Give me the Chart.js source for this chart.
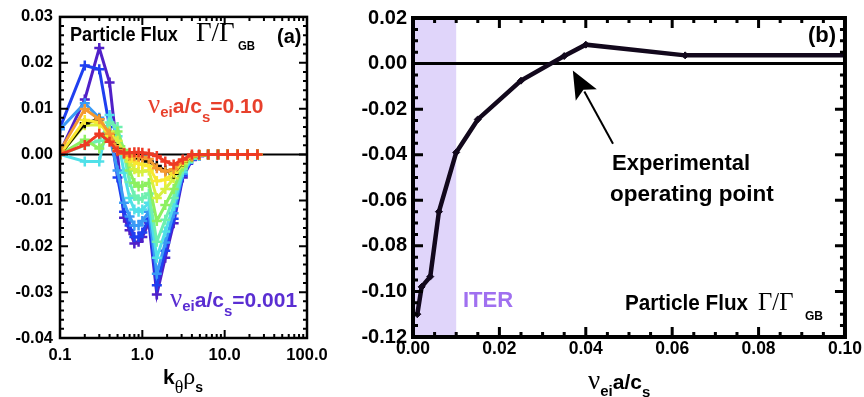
<!DOCTYPE html>
<html>
<head>
<meta charset="utf-8">
<title>Particle flux collisionality scan</title>
<script src="https://cdn.jsdelivr.net/npm/chart.js@4.4.1/dist/chart.umd.min.js"></script>
<style>
    body { margin: 0; background: #fff; }
    #wrap { position: relative; width: 864px; height: 397px; overflow: hidden; }
    canvas { position: absolute; top: 0; }
    .t {
        position: absolute; white-space: nowrap; line-height: 1;
        font-family: "Liberation Sans", Arial, sans-serif; font-weight: bold;
        transform-origin: 0 0;
    }
    .g { font-family: "Liberation Serif", "Times New Roman", serif; font-weight: normal; }
    .sub { position: relative; }
</style>
</head>
<body>
<div id="wrap">
    <canvas id="fluxK" width="345" height="397" style="left:0"></canvas>
    <canvas id="fluxNu" width="519" height="397" style="left:345px"></canvas>

    <!-- panel (a) labels -->
    <div class="t" style="left:70px;top:23.6px;font-size:20.5px;transform:scaleX(0.885)">Particle Flux</div>
    <div class="t g" style="left:196px;top:18.5px;font-size:27px">Γ/Γ</div>
    <div class="t" style="left:238px;top:39.8px;font-size:12px;transform:scaleX(0.95)">GB</div>
    <div class="t" style="left:277px;top:25px;font-size:21px;transform:scaleX(0.95)">(a)</div>
    <div class="t" style="left:148px;top:91px;font-size:21px;color:#e8402c"><span class="g" style="font-size:27px">ν</span><span class="sub" style="font-size:15px;top:4px">ei</span>a/c<span class="sub" style="font-size:15px;top:9px">s</span>=0.10</div>
    <div class="t" style="left:170px;top:285px;font-size:21px;color:#5a2ed2"><span class="g" style="font-size:27px">ν</span><span class="sub" style="font-size:15px;top:4px">ei</span>a/c<span class="sub" style="font-size:15px;top:9px">s</span>=0.001</div>
    <div class="t" style="left:163px;top:364px;font-size:21px">k<span class="sub g" style="font-size:18px;top:9px">θ</span><span class="g" style="font-size:24px">ρ</span><span class="sub" style="font-size:14px;top:8px">s</span></div>

    <!-- panel (b) labels -->
    <div class="t" style="left:808px;top:24.3px;font-size:22px">(b)</div>
    <div class="t" style="left:612px;top:152.3px;font-size:22px">Experimental</div>
    <div class="t" style="left:610px;top:182.9px;font-size:22.5px">operating point</div>
    <div class="t" style="left:463px;top:289.3px;font-size:22px;color:#a070f0">ITER</div>
    <div class="t" style="left:625px;top:291.9px;font-size:22.5px;transform:scaleX(0.92)">Particle Flux</div>
    <div class="t g" style="left:758px;top:289.2px;font-size:26px;transform:scaleX(0.95)">Γ/Γ</div>
    <div class="t" style="left:805px;top:309.8px;font-size:12px">GB</div>
    <div class="t" style="left:588px;top:367px;font-size:21px"><span class="g" style="font-size:27px">ν</span><span class="sub" style="font-size:15px;top:7px">ei</span>a/c<span class="sub" style="font-size:15px;top:8px">s</span></div>
</div>

<script>
// ---- panel (a): flux spectrum vs k_theta rho_s, one line per collisionality ----
const kGrid = [0.1, 0.2, 0.3, 0.4, 0.5, 0.6, 0.7, 0.8, 0.9, 1.0, 1.2, 1.5, 1.9, 2.4, 3.1, 4.0, 4.9, 6.3, 8.3, 10.9, 14.4, 19, 25];

const fluxNu001 = [0.0005, 0.0120, 0.0232, 0.0157, 0.0000, -0.0138, -0.0165, -0.0194, -0.0190, -0.0180, -0.0148, -0.0305, -0.0225, -0.0150, -0.0050, -0.0012, -0.0003, 0, 0, 0, 0, 0, 0];
const fluxNu002 = [0.0058, 0.0194, 0.0186, 0.0060, -0.0050, -0.0125, -0.0155, -0.0180, -0.0180, -0.0170, -0.0140, -0.0285, -0.0210, -0.0140, -0.0046, -0.0011, -0.0003, 0, 0, 0, 0, 0, 0];
const fluxNu004 = [0.0055, 0.0112, 0.0080, 0.0040, -0.0035, -0.0105, -0.0135, -0.0155, -0.0155, -0.0145, -0.0125, -0.0260, -0.0192, -0.0128, -0.0042, -0.0010, -0.0002, 0, 0, 0, 0, 0, 0];
const fluxNu006 = [0.0000, -0.0015, -0.0015, 0.0086, 0.0040, -0.0040, -0.0095, -0.0120, -0.0125, -0.0120, -0.0105, -0.0225, -0.0168, -0.0112, -0.0038, -0.0009, -0.0002, 0, 0, 0, 0, 0, 0];
const fluxNu010 = [0.0000, 0.0020, 0.0030, 0.0070, 0.0060, 0.0000, -0.0060, -0.0090, -0.0098, -0.0095, -0.0085, -0.0190, -0.0142, -0.0095, -0.0032, -0.0008, -0.0002, 0, 0, 0, 0, 0, 0];
const fluxNu015 = [0.0000, 0.0032, 0.0013, 0.0040, 0.0050, 0.0010, -0.0035, -0.0062, -0.0070, -0.0068, -0.0062, -0.0145, -0.0110, -0.0075, -0.0026, -0.0006, -0.0001, 0, 0, 0, 0, 0, 0];
const fluxNu025 = [0.0000, 0.0064, 0.0065, 0.0050, 0.0030, 0.0005, -0.0015, -0.0032, -0.0038, -0.0037, -0.0035, -0.0095, -0.0075, -0.0052, -0.0019, -0.0005, -0.0001, 0, 0, 0, 0, 0, 0];
const fluxNu035 = [0.0000, 0.0068, 0.0077, 0.0042, 0.0012, 0.0002, -0.0003, -0.0006, -0.0008, -0.0010, -0.0015, -0.0025, -0.0035, -0.0042, -0.0016, -0.0004, -0.0001, 0, 0, 0, 0, 0, 0];
const fluxNu040 = [0.0000, 0.0075, 0.0070, 0.0040, 0.0010, 0.0002, -0.0008, -0.0015, -0.0020, -0.0022, -0.0025, -0.0058, -0.0055, -0.0040, -0.0015, -0.0004, -0.0001, 0, 0, 0, 0, 0, 0];
const fluxNu063 = [0.0008, 0.0099, 0.0077, 0.0045, 0.0010, 0.0002, -0.0002, -0.0004, -0.0005, -0.0006, -0.0010, -0.0030, -0.0037, -0.0032, -0.0012, -0.0003, -0.0001, 0, 0, 0, 0, 0, 0];
const fluxNu100 = [0.0000, 0.0021, 0.0045, 0.0028, 0.0007, 0.0003, 0.0004, 0.0005, 0.0005, 0.0004, 0.0002, -0.0003, -0.0015, -0.0022, -0.0011, 0.0000, 0.0000, 0, 0, 0, 0, 0, 0];

const spectra = [fluxNu001, fluxNu002, fluxNu004, fluxNu006, fluxNu010, fluxNu015, fluxNu025, fluxNu035, fluxNu040, fluxNu063, fluxNu100];
const spectraColors = ['#5020c8', '#1f3ff0', '#3a9af5', '#50e0e8', '#6ef0b0', '#8cf060', '#d8f040', '#000000', '#f8e830', '#f59a30', '#ee3a24'];

const kTicks = [0.1, 1, 10, 100];
const kMinorTicks = [0.2, 0.3, 0.4, 0.5, 0.6, 0.7, 0.8, 0.9, 2, 3, 4, 5, 6, 7, 8, 9, 20, 30, 40, 50, 60, 70, 80, 90];
const fluxTicksA = [-0.04, -0.03, -0.02, -0.01, 0, 0.01, 0.02, 0.03];

// ---- panel (b): total flux vs collisionality ----
const nuScan = [0.001, 0.002, 0.004, 0.006, 0.01, 0.015, 0.025, 0.035, 0.04, 0.063, 0.1];
const fluxTotal = [-0.110, -0.098, -0.0935, -0.065, -0.039, -0.0245, -0.0075, 0.0033, 0.0083, 0.0036, 0.0036];
const nuTicks = [0, 0.02, 0.04, 0.06, 0.08, 0.10];
const fluxTicksB = [-0.12, -0.10, -0.08, -0.06, -0.04, -0.02, 0, 0.02];
const iterRange = [0, 0.01];
const arrowTail = [0.0463, -0.0352];
const arrowTip = [0.037, -0.003];

const FONT = '"Liberation Sans", Arial, sans-serif';

function steps(lo, hi, d) {
    const out = [];
    for (let v = lo; v <= hi + d / 2; v += d) out.push(+v.toFixed(6));
    return out;
}

// box frame with inward ticks on all four sides
const frameTicks = {
    id: 'frameTicks',
    afterDatasetsDraw(chart, args, o) {
        const { ctx, chartArea: a } = chart;
        const xs = chart.scales.x, ys = chart.scales.y;
        ctx.save();
        ctx.strokeStyle = '#000';
        ctx.lineWidth = o.tickWidth;
        ctx.beginPath();
        const xMarks = (vals, len) => vals.forEach(v => {
            const p = xs.getPixelForValue(v);
            ctx.moveTo(p, a.bottom); ctx.lineTo(p, a.bottom - len);
            ctx.moveTo(p, a.top); ctx.lineTo(p, a.top + len);
        });
        const yMarks = (vals, len) => vals.forEach(v => {
            const p = ys.getPixelForValue(v);
            ctx.moveTo(a.left, p); ctx.lineTo(a.left + len, p);
            ctx.moveTo(a.right, p); ctx.lineTo(a.right - len, p);
        });
        xMarks(o.xMajor, o.majorLen); xMarks(o.xMinor, o.minorLen);
        yMarks(o.yMajor, o.majorLen); yMarks(o.yMinor, o.minorLen);
        ctx.stroke();
        ctx.lineWidth = o.frameWidth;
        ctx.strokeRect(a.left, a.top, a.width, a.height);
        ctx.restore();
    }
};

// shaded band + zero line under the data
const backdrop = {
    id: 'backdrop',
    beforeDatasetsDraw(chart, args, o) {
        const { ctx, chartArea: a } = chart;
        const xs = chart.scales.x, ys = chart.scales.y;
        ctx.save();
        if (o.band) {
            const x0 = xs.getPixelForValue(o.band[0]), x1 = xs.getPixelForValue(o.band[1]);
            ctx.fillStyle = o.bandColor;
            ctx.fillRect(x0, a.top, x1 - x0, a.height);
        }
        const y0 = ys.getPixelForValue(0);
        ctx.strokeStyle = '#000';
        ctx.lineWidth = o.zeroWidth;
        ctx.beginPath();
        ctx.moveTo(a.left, y0); ctx.lineTo(a.right, y0);
        ctx.stroke();
        ctx.restore();
    }
};

const arrowNote = {
    id: 'arrowNote',
    afterDatasetsDraw(chart, args, o) {
        const { ctx } = chart;
        const xs = chart.scales.x, ys = chart.scales.y;
        const x0 = xs.getPixelForValue(o.from[0]), y0 = ys.getPixelForValue(o.from[1]);
        const x1 = xs.getPixelForValue(o.to[0]), y1 = ys.getPixelForValue(o.to[1]);
        const len = Math.hypot(x1 - x0, y1 - y0);
        const ux = (x1 - x0) / len, uy = (y1 - y0) / len;
        const bx = x1 - ux * o.head, by = y1 - uy * o.head;
        ctx.save();
        ctx.strokeStyle = '#000';
        ctx.fillStyle = '#000';
        ctx.lineWidth = 2;
        ctx.beginPath();
        ctx.moveTo(x0, y0); ctx.lineTo(bx + ux * 4, by + uy * 4);
        ctx.stroke();
        ctx.beginPath();
        ctx.moveTo(x1, y1);
        ctx.lineTo(bx - uy * o.half, by + ux * o.half);
        ctx.lineTo(bx + ux * 6, by + uy * 6);
        ctx.lineTo(bx + uy * o.half, by - ux * o.half);
        ctx.closePath();
        ctx.fill();
        ctx.restore();
    }
};

function fmt(d) {
    return v => (Math.abs(v) < 1e-9 ? 0 : v).toFixed(d);
}

// panel (a)
new Chart(document.getElementById('fluxK'), {
    type: 'line',
    data: {
        datasets: spectra.map((vals, i) => ({
            data: kGrid.map((k, j) => ({ x: k, y: vals[j] })),
            borderColor: spectraColors[i],
            backgroundColor: spectraColors[i],
            borderWidth: 3,
            pointStyle: 'cross',
            pointRadius: 5,
            pointBorderWidth: 2.5,
            order: spectra.length - i
        }))
    },
    options: {
        responsive: false,
        animation: false,
        devicePixelRatio: 1,
        layout: { padding: { top: 14, right: 38, left: 0, bottom: 0 } },
        plugins: {
            legend: { display: false },
            tooltip: { enabled: false },
            backdrop: { zeroWidth: 2 },
            frameTicks: {
                xMajor: kTicks, xMinor: kMinorTicks,
                yMajor: fluxTicksA, yMinor: steps(-0.04, 0.03, 0.002),
                majorLen: 8, minorLen: 4, tickWidth: 2, frameWidth: 2.5
            }
        },
        scales: {
            x: {
                type: 'logarithmic', min: 0.1, max: 100,
                afterBuildTicks: s => { s.ticks = kTicks.map(v => ({ value: v })); },
                afterFit: s => { s.height = 59; },
                ticks: {
                    callback: fmt(1), autoSkip: false, maxRotation: 0, color: '#000',
                    padding: 8,
                    font: { family: FONT, size: 16.5, weight: 'bold' }
                },
                grid: { display: false, drawTicks: false },
                border: { display: false }
            },
            y: {
                min: -0.04, max: 0.03,
                afterBuildTicks: s => { s.ticks = fluxTicksA.map(v => ({ value: v })); },
                afterFit: s => { s.width = 60; },
                ticks: {
                    callback: fmt(2), color: '#000', padding: 7,
                    font: { family: FONT, size: 16.5, weight: 'bold' }
                },
                grid: { display: false, drawTicks: false },
                border: { display: false }
            }
        }
    },
    plugins: [backdrop, frameTicks]
});

// panel (b)
new Chart(document.getElementById('fluxNu'), {
    type: 'line',
    data: {
        datasets: [{
            data: nuScan.map((nu, i) => ({ x: nu, y: fluxTotal[i] })),
            borderColor: '#12081c',
            backgroundColor: '#12081c',
            borderWidth: 4.5,
            pointStyle: 'rectRot',
            pointRadius: 3.5,
            pointBorderWidth: 1
        }]
    },
    options: {
        responsive: false,
        animation: false,
        devicePixelRatio: 1,
        layout: { padding: { top: 15, right: 19, left: 0, bottom: 0 } },
        plugins: {
            legend: { display: false },
            tooltip: { enabled: false },
            backdrop: { band: iterRange, bandColor: '#e0d5fa', zeroWidth: 3 },
            arrowNote: { from: arrowTail, to: arrowTip, head: 28, half: 12 },
            frameTicks: {
                xMajor: nuTicks, xMinor: steps(0, 0.1, 0.005),
                yMajor: fluxTicksB, yMinor: steps(-0.12, 0.02, 0.005),
                majorLen: 10, minorLen: 5, tickWidth: 3, frameWidth: 4
            }
        },
        scales: {
            x: {
                type: 'linear', min: 0, max: 0.1,
                afterBuildTicks: s => { s.ticks = nuTicks.map(v => ({ value: v })); },
                afterFit: s => { s.height = 60; },
                ticks: {
                    callback: fmt(2), autoSkip: false, maxRotation: 0, color: '#000',
                    padding: 2,
                    font: { family: FONT, size: 17.5, weight: 'bold' }
                },
                grid: { display: false, drawTicks: false },
                border: { display: false }
            },
            y: {
                min: -0.12, max: 0.02,
                afterBuildTicks: s => { s.ticks = fluxTicksB.map(v => ({ value: v })); },
                afterFit: s => { s.width = 68; },
                ticks: {
                    callback: fmt(2), color: '#000', padding: 6,
                    font: { family: FONT, size: 20, weight: 'bold' }
                },
                grid: { display: false, drawTicks: false },
                border: { display: false }
            }
        }
    },
    plugins: [backdrop, arrowNote, frameTicks]
});
</script>
</body>
</html>
